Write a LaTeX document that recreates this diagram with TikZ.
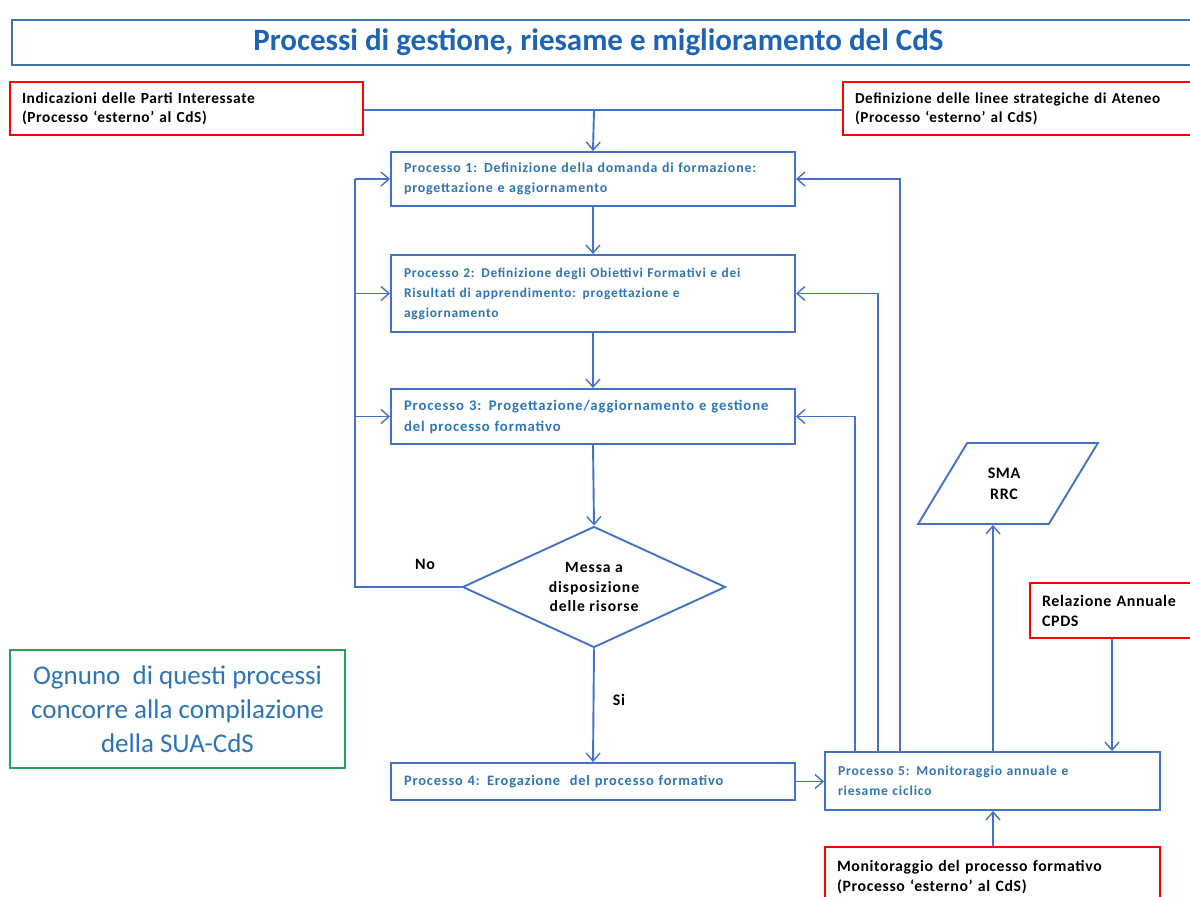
\documentclass[tikz,border=0pt]{standalone}
\usepackage{fontspec}
\setmainfont{Carlito}
\newfontfamily\wf[LetterSpace=6]{Carlito}
\newfontfamily\rf[LetterSpace=4]{Carlito}
\usetikzlibrary{arrows.meta,shapes.geometric,calc}
\definecolor{lb}{HTML}{4472C4}
\definecolor{tb}{HTML}{2E75B6}
\definecolor{ttl}{HTML}{1F63B4}
\definecolor{rd}{HTML}{FF0000}
\definecolor{gr}{HTML}{2CA05A}
\definecolor{tbord}{HTML}{41719C}
\tikzset{
  pbox/.style={draw=lb, line width=1.9pt, rectangle, inner xsep=13pt, inner ysep=1pt,
    align=left, text=tb},
  rbox/.style={draw=rd, line width=1.9pt, rectangle, inner xsep=12pt, inner ysep=1pt,
    align=left, text=black},
  conn/.style={draw=lb, line width=1.9pt},
  arr/.style={conn, -{Straight Barb[length=8pt,width=14pt,line width=1.4pt]}},
  lbl/.style={text=black, font=\rf\fontsize{16}{18}\selectfont\bfseries}
}
\begin{document}
\begin{tikzpicture}[x=1pt,y=-1pt]
\clip (0,0) rectangle (1190,896);
\fill[white] (0,0) rectangle (1190,896);
% title
\node[draw=tbord, line width=2.2pt, minimum width=1183, minimum height=45, inner sep=0pt,
  text=ttl, font=\fontsize{31}{33}\selectfont\bfseries] (title) at (603.5,42.5)
  {\hspace*{-10pt}Processi di gestione, riesame e miglioramento del CdS};
% red external boxes
\node[rbox, minimum width=353, minimum height=53, text width=329,
  font=\rf\fontsize{15.4}{19}\selectfont\bfseries] (ext1) at (186.5,108.5)
  {Indicazioni delle Parti Interessate\\(Processo ‘esterno’ al CdS)};
\node[rbox, minimum width=352, minimum height=53, text width=328,
  font=\rf\fontsize{15.2}{19}\selectfont\bfseries] (ext2) at (1019,108.5)
  {Definizione delle linee strategiche di Ateneo\\(Processo ‘esterno’ al CdS)};
% process boxes
\node[pbox, minimum width=404, minimum height=54, text width=378,
  font=\wf\fontsize{13.9}{20}\selectfont\bfseries] (p1) at (593,179)
  {Processo 1: Definizione della domanda di formazione:\\progettazione e aggiornamento};
\node[pbox, minimum width=404, minimum height=77, text width=378,
  font=\wf\fontsize{13.4}{20}\selectfont\bfseries] (p2) at (593,293.5)
  {Processo 2: Definizione degli Obiettivi Formativi e dei\\Risultati di apprendimento: progettazione e\\aggiornamento};
\node[pbox, minimum width=404, minimum height=55, text width=378,
  font=\wf\fontsize{14.7}{21}\selectfont\bfseries] (p3) at (593,416.5)
  {Processo 3: Progettazione/aggiornamento e gestione\\del processo formativo};
\node[draw=lb, line width=1.9pt, diamond, aspect=2.17, minimum width=263, minimum height=121,
  inner sep=0pt, align=center, text=black,
  font=\wf\fontsize{15.6}{19.5}\selectfont\bfseries] (dec) at (594,587)
  {Messa a\\disposizione\\delle risorse};
\node[pbox, minimum width=404, minimum height=37, text width=378,
  font=\wf\fontsize{14.4}{20}\selectfont\bfseries] (p4) at (593,781.5)
  {Processo 4: Erogazione\ \ del processo formativo};
\node[pbox, minimum width=335, minimum height=58, text width=309,
  font=\wf\fontsize{13.6}{20}\selectfont\bfseries] (p5) at (992.5,781)
  {Processo 5: Monitoraggio annuale e\\riesame ciclico};
% outputs / inputs
\node[draw=lb, line width=1.9pt, trapezium, trapezium left angle=65, trapezium right angle=115,
  trapezium stretches=true, minimum width=180, minimum height=81, inner sep=0pt,
  align=center, text=black, font=\rf\fontsize{16}{21}\selectfont\bfseries] (sma) at (1008,483.5)
  {\hspace*{-8pt}SMA\\\hspace*{-8pt}RRC};
\node[rbox, minimum width=170, minimum height=55, text width=146,
  font=\rf\fontsize{16}{20}\selectfont\bfseries] (rel) at (1115,610.5)
  {Relazione Annuale\\CPDS};
\node[rbox, minimum width=335, minimum height=60, text width=311,
  font=\rf\fontsize{15.8}{20}\selectfont\bfseries] (mon) at (992.5,877)
  {Monitoraggio del processo formativo\\(Processo ‘esterno’ al CdS)};
\node[draw=gr, line width=2pt, minimum width=335, minimum height=118, inner sep=0pt,
  align=center, text=tb, font=\fontsize{27}{34}\selectfont] (note) at (177.5,709)
  {Ognuno\ \ di questi processi\\concorre alla compilazione\\della SUA-CdS};
% labels
\node[lbl] (no) at (425,564) {No};
\node[lbl] (si) at (619,700) {Si};
% helper coordinates
\coordinate (xin) at (594,110);
\coordinate (xl) at (355,0);
\coordinate (xr3) at (855,0);
\coordinate (xr2) at (878,0);
\coordinate (xr1) at (900,0);
\coordinate (xs) at (993,0);
\coordinate (xrel) at (1112,0);
% top inputs
\draw[conn] (ext1.east |- xin) -- (ext2.west |- xin);
\draw[arr] (xin) -- (p1.north);
% main chain
\draw[arr] (p1.south) -- (p2.north);
\draw[arr] (p2.south) -- (p3.north);
\draw[arr] (p3.south) -- (dec.north);
\draw[arr] (dec.south) -- (p4.north);
\draw[arr] (p4.east) -- (p5.west |- p4.east);
% "No" feedback
\draw[conn, line width=2.8pt] (dec.west) -- (dec.west -| xl) -- (p3.west -| xl);
\draw[conn] (p3.west -| xl) -- (p1.west -| xl);
\draw[arr] (p1.west -| xl) -- (p1.west);
\draw[arr] (p2.west -| xl) -- (p2.west);
\draw[arr] (p3.west -| xl) -- (p3.west);
% feedback from process 5
\draw[arr] (p5.north -| xr3) |- (p3.east);
\draw[arr] (p5.north -| xr2) |- (p2.east);
\draw[arr] (p5.north -| xr1) |- (p1.east);
% SMA, Relazione, Monitoraggio
\draw[arr] (p5.north -| xs) -- (sma.south -| xs);
\draw[arr] (rel.south -| xrel) -- (p5.north -| xrel);
\draw[arr] (mon.north -| xs) -- (p5.south -| xs);
\end{tikzpicture}
\end{document}
